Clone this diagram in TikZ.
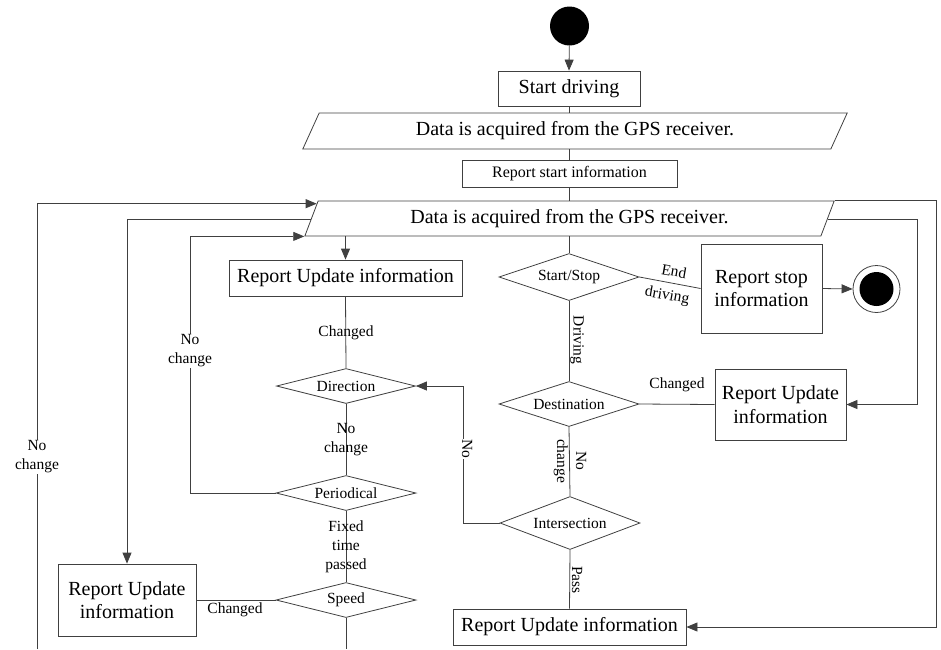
\documentclass[tikz,border=0pt]{standalone}
\usepackage{fontspec}
\setmainfont{Liberation Serif}
\usetikzlibrary{shapes.geometric,arrows.meta,calc}
\definecolor{lc}{gray}{0.25}
\newcommand{\bigf}{\fontsize{20}{23.5}\selectfont}
\newcommand{\labf}{\fontsize{15.5}{19}\selectfont}
\newcommand{\rsf}{\fontsize{16}{19}\selectfont}
\begin{document}
\begin{tikzpicture}[x=1pt,y=-1pt,
  line/.style={draw=lc, line width=0.8pt},
  arr/.style={line, -{Triangle[length=11pt,width=9pt]}},
  box/.style={draw=lc, line width=0.8pt, inner sep=0pt, align=center, font=\bigf},
  dec/.style={diamond, draw=lc, line width=0.8pt, inner sep=0pt, aspect=4, font=\labf},
  para/.style={trapezium, trapezium stretches=true, draw=lc, line width=0.8pt, inner sep=0pt, font=\bigf},
  lab/.style={font=\labf, align=center, inner sep=1pt},
  wlab/.style={lab, fill=white}]
\useasboundingbox (0,0) rectangle (941,649);

% start / end
\node[circle, fill=black, minimum size=39pt, inner sep=0pt] (st) at (569.5,26) {};
\node[circle, draw=lc, line width=0.8pt, minimum size=47pt, inner sep=0pt] (endc) at (876.5,289) {};
\node[circle, fill=black, minimum size=34pt, inner sep=0pt] (endi) at (876.5,289) {};

% boxes
\node[box, minimum width=142pt, minimum height=35pt] (sd) at (569,88.5) {Start driving};
\node[para, minimum width=546pt, minimum height=36pt, trapezium left angle=61, trapezium right angle=119] (p1) at (575,131) {Data is acquired from the GPS receiver.};
\node[box, font=\rsf, minimum width=215pt, minimum height=27pt] (rs) at (569.5,173.5) {Report start information};
\node[para, minimum width=531pt, minimum height=35pt, trapezium left angle=65.4, trapezium right angle=114.6] (p2) at (569.5,218.5) {Data is acquired from the GPS receiver.};
\node[box, minimum width=233pt, minimum height=36pt] (ru1) at (345.5,278) {Report Update information};
\node[box, minimum width=121pt, minimum height=89pt] (rstop) at (761.5,288.5) {Report stop\\information};
\node[box, minimum width=131pt, minimum height=71pt] (ru2) at (780.5,404.5) {Report Update\\information};
\node[box, minimum width=138pt, minimum height=72pt] (ru3) at (127,600) {Report Update\\information};
\node[box, minimum width=233pt, minimum height=36pt] (ru4) at (569.5,627) {Report Update information};

% decisions
\node[dec, minimum width=140pt, minimum height=47pt] (ss) at (569,277) {Start/Stop};
\node[dec, minimum width=140pt, minimum height=45pt] (dst) at (569,404) {Destination};
\node[dec, minimum width=140pt, minimum height=53pt] (int) at (570,523) {Intersection};
\node[dec, minimum width=139pt, minimum height=35pt] (dir) at (346,386) {Direction};
\node[dec, minimum width=140pt, minimum height=35pt] (per) at (346,493) {Periodical};
\node[dec, minimum width=140pt, minimum height=35pt] (spd) at (346,600) {Speed};

% helper coordinates
\coordinate (p2a) at ($(p2.bottom left corner)!0.914!(p2.top left corner)$);
\coordinate (p2b) at ($(p2.bottom left corner)!0.486!(p2.top left corner)$);
\coordinate (p2r) at ($(p2.bottom right corner)!0.486!(p2.top right corner)$);
\coordinate (lx1) at (37,649);
\coordinate (lx3) at (190,0);
\coordinate (lx4) at (463,0);
\coordinate (rx1) at (936,0);
\coordinate (rx2) at (917,0);
\coordinate (bot) at (0,649);

% main column
\draw[arr] (st) -- (sd.north);
\draw[line] (sd.south) -- (sd.south |- p1.north);
\draw[line] (rs.north |- p1.south) -- (rs.north);
\draw[line] (rs.south) -- (rs.south |- p2.north);
\draw[line] (ss.north |- p2.south) -- (ss.north);
\draw[line] (ss.east) -- (rstop.west);
\draw[arr] (rstop.east) -- (endc.west);
\draw[line] (ss.south) -- (dst.north);
\draw[line] (dst.east) -- (ru2.west);
\draw[line] (dst.south) -- (int.north);
\draw[line] (int.south) -- (ru4.north);
\draw[arr] (int.west) -- (int.west -| lx4) |- (dir.east);

% left column
\draw[arr] (ru1.north |- p2.south) -- (ru1.north);
\draw[line] (ru1.south) -- (dir.north);
\draw[line] (dir.south) -- (per.north);
\draw[line] (per.south) -- (spd.north);
\draw[line] (spd.west) -- (ru3.east);
\draw[line] (spd.south) -- (spd.south |- bot);

% loops
\draw[arr] (lx1) |- (p2a);
\draw[arr] (p2b) -| (ru3.north);
\draw[arr] (per.west) -- (per.west -| lx3) |- (p2.bottom left corner);
\draw[arr] (p2.top right corner) -- (p2.top right corner -| rx1) |- (ru4.east);
\draw[arr] (p2r) -- (p2r -| rx2) |- (ru2.east);

% labels
\node[lab] (lchg1) at (346,333) {Changed};
\node[lab] (lnc1) at (346,440) {No\\change};
\node[lab] (lftp) at (346,547) {Fixed\\time\\passed};
\node[lab] (lchg2) at (235,610) {Changed};
\node[wlab] (lnc2) at (190,351) {No\\change};
\node[wlab] (lnc3) at (37,457) {No\\change};
\node[wlab, rotate=-90] (lno) at (467,449) {No};
\node[lab, inner sep=0pt, rotate=-10] (lend) at (674,271) {End};
\node[lab, inner sep=0pt, rotate=-10] (ldrv) at (667,296) {driving};
\node[lab, rotate=-90] (ldriving) at (577,340) {Driving};
\node[lab] (lchg3) at (677,385) {Changed};
\node[lab, rotate=-90] (lnc4) at (570,461) {No\\change};
\node[lab, rotate=-90] (lpass) at (577,580) {Pass};
\end{tikzpicture}
\end{document}
